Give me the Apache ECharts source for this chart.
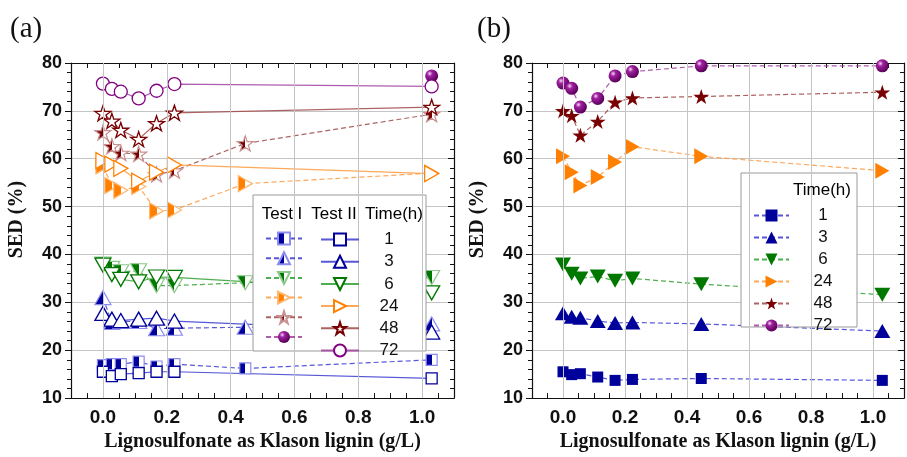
<!DOCTYPE html>
<html>
<head>
<meta charset="utf-8">
<script src="https://cdn.jsdelivr.net/npm/echarts@6/dist/echarts.min.js"></script>
<style>
  html, body { margin: 0; padding: 0; background: #fff; }
  #main { width: 907px; height: 457px; }
</style>
</head>
<body>
<div id="main"></div>
<script>
// lignin loading (g/L)
const xsI = [0, 0.028, 0.056, 0.112, 0.168, 0.224, 0.446, 1.03]
const xsII = [0, 0.028, 0.056, 0.112, 0.168, 0.224, 1.03]
const times = ['1', '3', '6', '24', '48', '72']

// panel (a), Test I (dashed, half filled)
const aI1 = [16.9, 17.1, 17.1, 17.6, 16.6, 17.1, 16.2, 18.0]
const aI3 = [31.0, 25.8, 26.0, 26.0, 24.5, 24.6, 24.8, 25.5]
const aI6 = [38.0, 37.1, 36.4, 36.6, 33.5, 33.5, 34.1, 35.2]
const aI24 = [58.5, 54.4, 53.4, 54.2, 49.1, 49.3, 54.8, 57.0]
const aI48 = [65.5, 62.6, 61.2, 61.0, 56.7, 57.5, 63.2, 69.3]
const aI72x = [1.03]
const aI72 = [77.3]

// panel (a), Test II (solid, hollow)
const aII1 = [15.5, 14.6, 15.0, 15.2, 15.5, 15.5, 14.1]
const aII3 = [27.7, 26.5, 26.2, 26.5, 26.7, 26.1, 23.8]
const aII6 = [37.8, 35.8, 34.8, 34.3, 35.3, 35.2, 32.0]
const aII24 = [59.6, 58.9, 58.0, 55.3, 57.2, 58.7, 56.9]
const aII48 = [69.5, 67.9, 66.0, 64.1, 67.4, 69.6, 70.8]
const aII72 = [75.7, 74.6, 74.0, 72.6, 74.2, 75.6, 75.1]

// panel (b)
const b1 = [15.5, 14.9, 15.1, 14.4, 13.7, 13.9, 14.1, 13.7]
const b3 = [27.7, 27.0, 26.8, 26.1, 25.7, 25.8, 25.5, 24.0]
const b6 = [37.9, 36.0, 35.0, 35.4, 34.5, 35.0, 33.8, 31.6]
const b24 = [60.5, 57.2, 54.4, 56.2, 59.3, 62.5, 60.5, 57.5]
const b48 = [70.0, 69.0, 64.9, 67.8, 71.8, 72.7, 73.0, 73.9]
const b72 = [75.8, 74.7, 70.8, 72.6, 77.3, 78.2, 79.4, 79.4]

const gridX = [0, 0.2, 0.4, 0.6, 0.8, 1.0]

const SANS = 'Liberation Sans'
const SERIF = 'Liberation Serif'

const STAR = 'path://M0,-1L0.2245,-0.309L0.951,-0.309L0.363,0.118L0.588,0.809L0,0.382L-0.588,0.809L-0.363,0.118L-0.951,-0.309L-0.2245,-0.309Z'
const DOWN = 'path://M0,0L2,0L1,1.73Z'
const RIGHT = 'path://M0,0L1.73,1L0,2Z'

const styles = {
  '1': { dark: '#00009a', light: '#8c8cf0', line: '#3a3ad0', symbol: 'rect', size: [11, 11] },
  '3': { dark: '#00009a', light: '#8c8cf0', line: '#3a3ad0', symbol: 'triangle', size: [16, 14] },
  '6': { dark: '#007800', light: '#8cc88c', line: '#30a030', symbol: DOWN, size: [16, 14] },
  '24': { dark: '#ff8000', light: '#ffb870', line: '#ff9a40', symbol: RIGHT, size: [14, 16] },
  '48': { dark: '#780000', light: '#c89090', line: '#a04848', symbol: STAR, size: [16, 15] },
  '72': { dark: '#800080', light: '#c080c0', line: '#a040a0', symbol: 'circle', size: [13, 13] }
}

function half (c) {
  return new echarts.graphic.LinearGradient(0, 0, 1, 0, [
    { offset: 0, color: c }, { offset: 0.5, color: c },
    { offset: 0.5, color: '#fff' }, { offset: 1, color: '#fff' }
  ])
}

function sphere () {
  return new echarts.graphic.RadialGradient(0.35, 0.32, 0.7, [
    { offset: 0, color: '#f6dcf6' }, { offset: 0.3, color: '#a020a0' }, { offset: 1, color: '#560056' }
  ])
}

function pairs (xs, ys) {
  return ys.map((y, i) => [xs[i], y])
}

function makeSeries (name, t, kind, xs, ys, gi) {
  const s = styles[t]
  let item
  if (kind === 'I') {
    item = t === '72'
      ? { color: sphere(), borderWidth: 0 }
      : { color: half(s.dark), borderColor: s.light, borderWidth: 1.2 }
  } else if (kind === 'II') {
    item = { color: '#fff', borderColor: s.dark, borderWidth: 1.3 }
  } else {
    item = t === '72'
      ? { color: sphere(), borderWidth: 0 }
      : { color: s.dark, borderWidth: 0 }
  }
  return {
    name: name,
    type: 'line',
    xAxisIndex: gi * 2,
    yAxisIndex: gi * 2,
    data: pairs(xs, ys),
    symbol: s.symbol,
    symbolSize: s.size,
    showSymbol: true,
    itemStyle: item,
    lineStyle: {
      color: s.line,
      width: 1.2,
      type: kind === 'II' ? 'solid' : [5, 3],
      opacity: 0.85
    },
    emphasis: { disabled: true },
    z: 3
  }
}

function gridLines (gi) {
  return {
    name: 'grid' + gi,
    type: 'line',
    xAxisIndex: gi * 2,
    yAxisIndex: gi * 2,
    data: [],
    silent: true,
    z: 1,
    markLine: {
      silent: true,
      symbol: 'none',
      label: { show: false },
      lineStyle: { color: '#c4c4c4', width: 1, type: 'solid' },
      data: gridX.map(x => ({ xAxis: x }))
    }
  }
}

function xAxes (gi) {
  const base = {
    type: 'value', gridIndex: gi, min: -0.1, max: 1.1, interval: 0.1,
    axisLine: { show: true, onZero: false, lineStyle: { color: '#111', width: 1.2 } },
    splitLine: { show: false }
  }
  return [
    Object.assign({}, base, {
      position: 'bottom',
      axisTick: { show: true, inside: true, length: 5, lineStyle: { color: '#111' } },
      minorTick: { show: true, splitNumber: 2, length: 5, lineStyle: { color: '#111' } },
      axisLabel: {
        margin: 10,
        color: '#111',
        fontFamily: SANS,
        fontWeight: 'bold',
        fontSize: 19,
        formatter: v => {
          const k = Math.round(v * 10)
          return (k >= 0 && k % 2 === 0) ? (k / 10).toFixed(1) : ''
        }
      },
      name: 'Lignosulfonate as Klason lignin (g/L)',
      nameLocation: 'middle',
      nameGap: 33,
      nameTextStyle: { fontFamily: SERIF, fontWeight: 'bold', fontSize: 20, color: '#111' }
    }),
    Object.assign({}, base, {
      position: 'top',
      axisTick: { show: true, inside: true, length: 5, lineStyle: { color: '#111' } },
      minorTick: { show: true, splitNumber: 2, length: 5, lineStyle: { color: '#111' } },
      axisLabel: { show: false }
    })
  ]
}

function yAxes (gi) {
  const base = {
    type: 'value', gridIndex: gi, min: 10, max: 80, interval: 10,
    axisLine: { show: true, onZero: false, lineStyle: { color: '#111', width: 1.2 } }
  }
  return [
    Object.assign({}, base, {
      position: 'left',
      axisTick: { show: true, inside: false, length: 6, lineStyle: { color: '#111' } },
      minorTick: { show: true, splitNumber: 5, length: 4, lineStyle: { color: '#111' } },
      splitLine: { show: true, lineStyle: { color: '#c4c4c4', width: 1 } },
      axisLabel: { margin: 9, color: '#111', fontFamily: SANS, fontWeight: 'bold', fontSize: 18 },
      name: 'SED (%)',
      nameLocation: 'middle',
      nameGap: 44,
      nameTextStyle: { fontFamily: SERIF, fontWeight: 'bold', fontSize: 20, color: '#111', padding: [0, 0, 0, 22] }
    }),
    Object.assign({}, base, {
      position: 'right',
      axisTick: { show: true, inside: true, length: 6, lineStyle: { color: '#111' } },
      minorTick: { show: true, splitNumber: 5, length: 4, lineStyle: { color: '#111' } },
      splitLine: { show: false },
      axisLabel: { show: false }
    })
  ]
}

const aIvals = [aI1, aI3, aI6, aI24, aI48, aI72]
const aIIvals = [aII1, aII3, aII6, aII24, aII48, aII72]
const bvals = [b1, b3, b6, b24, b48, b72]

const series = [gridLines(0), gridLines(1)]
times.forEach((t, i) => {
  const xs = t === '72' ? aI72x : xsI
  series.push(makeSeries('I-' + t, t, 'I', xs, aIvals[i], 0))
})
times.forEach((t, i) => {
  series.push(makeSeries('II-' + t, t, 'II', xsII, aIIvals[i], 0))
})
times.forEach((t, i) => {
  series.push(makeSeries('B-' + t, t, 'B', xsI, bvals[i], 1))
})

const legendText = { fontFamily: SANS, fontSize: 17, color: '#111' }

const option = {
  animation: false,
  backgroundColor: '#fff',
  title: [
    { text: '(a)', left: 5, top: 10, textStyle: { fontFamily: SERIF, fontWeight: 'normal', fontSize: 29, color: '#111' } },
    { text: '(b)', left: 472, top: 10, textStyle: { fontFamily: SERIF, fontWeight: 'normal', fontSize: 29, color: '#111' } }
  ],
  grid: [
    { left: 71, right: 453, top: 63, bottom: 55 },
    { left: 532, right: -8, top: 63, bottom: 55 }
  ],
  xAxis: xAxes(0).concat(xAxes(1)),
  yAxis: yAxes(0).concat(yAxes(1)),
  legend: [
    {
      data: times.map(t => 'I-' + t),
      orient: 'vertical', left: 260, top: 226,
      itemWidth: 36, itemHeight: 15, itemGap: 5.2,
      formatter: () => '',
      selectedMode: false, z: 6
    },
    {
      data: times.map(t => 'II-' + t),
      orient: 'vertical', left: 315, top: 226,
      itemWidth: 38, itemHeight: 15, itemGap: 5.2,
      formatter: name => '{c|' + name.slice(3) + '}',
      textStyle: Object.assign({ rich: { c: Object.assign({ width: 50, align: 'center' }, legendText) } }, legendText),
      selectedMode: false, z: 6
    },
    {
      data: times.map(t => 'B-' + t),
      orient: 'vertical', left: 748, top: 202,
      itemWidth: 35, itemHeight: 15, itemGap: 5,
      formatter: name => '{c|' + name.slice(2) + '}',
      textStyle: Object.assign({ rich: { c: Object.assign({ width: 58, align: 'center' }, legendText) } }, legendText),
      selectedMode: false, z: 6
    }
  ],
  graphic: [
    { type: 'rect', z: 5, shape: { x: 253, y: 195, width: 173, height: 156 }, style: { fill: '#fff', stroke: '#9a9a9a', lineWidth: 1 } },
    { type: 'text', z: 6, x: 282, y: 214, style: Object.assign({ text: 'Test I', align: 'center', verticalAlign: 'middle' }, legendText, { font: '17px ' + SANS }) },
    { type: 'text', z: 6, x: 334, y: 214, style: Object.assign({ text: 'Test II', align: 'center', verticalAlign: 'middle' }, legendText, { font: '17px ' + SANS }) },
    { type: 'text', z: 6, x: 394, y: 214, style: Object.assign({ text: 'Time(h)', align: 'center', verticalAlign: 'middle' }, legendText, { font: '17px ' + SANS }) },
    { type: 'rect', z: 5, shape: { x: 741, y: 173, width: 116, height: 154 }, style: { fill: '#fff', stroke: '#9a9a9a', lineWidth: 1 } },
    { type: 'text', z: 6, x: 822, y: 190, style: Object.assign({ text: 'Time(h)', align: 'center', verticalAlign: 'middle' }, legendText, { font: '16px ' + SANS }) }
  ],
  series: series
}

const myChart = echarts.init(document.getElementById('main'))
myChart.setOption(option)
</script>
</body>
</html>
